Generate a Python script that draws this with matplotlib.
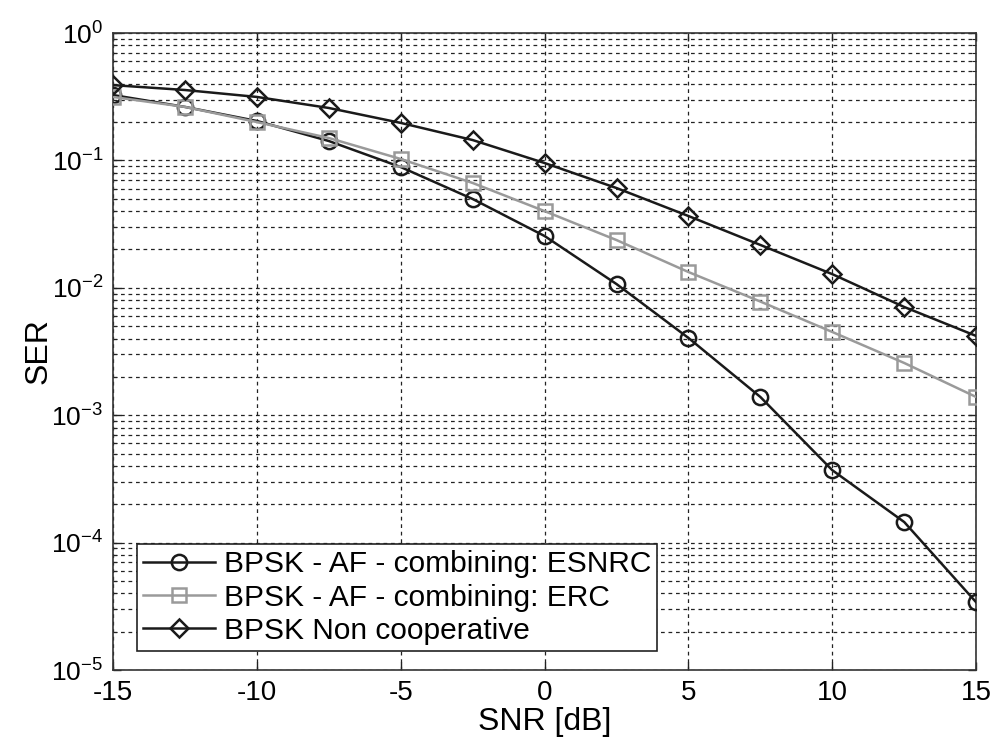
import matplotlib
matplotlib.use("Agg")
import matplotlib.pyplot as plt
from matplotlib.ticker import LogLocator, FixedLocator

plt.rcParams['font.family'] = ['Liberation Sans', 'DejaVu Sans']
plt.rcParams['mathtext.fontset'] = 'custom'
plt.rcParams['mathtext.rm'] = 'Liberation Sans'
plt.rcParams['axes.unicode_minus'] = False

snr_db = [-15, -12.5, -10, -7.5, -5, -2.5, 0, 2.5, 5, 7.5, 10, 12.5, 15]

ser_esnrc = [0.326, 0.263, 0.204, 0.142, 0.0887, 0.0498, 0.0255, 0.0107,
             0.00404, 0.00139, 3.7e-4, 1.45e-4, 3.4e-5]
ser_erc = [0.315, 0.263, 0.200, 0.150, 0.1026, 0.0665, 0.0400, 0.0237,
           0.0133, 0.0078, 0.0045, 0.00257, 0.00139]
ser_noncoop = [0.39, 0.357, 0.315, 0.258, 0.197, 0.1445, 0.0954, 0.0607,
               0.0366, 0.0217, 0.0128, 0.00707, 0.00419]

labels = ["BPSK - AF - combining: ESNRC",
          "BPSK - AF - combining: ERC",
          "BPSK Non cooperative"]

fig = plt.figure(figsize=(9.95, 7.42), dpi=100)
ax = fig.add_axes([0.1136, 0.097, 0.8675, 0.8585])

ax.plot(snr_db, ser_esnrc, color='#1a1a1a', lw=1.8, marker='o', ms=11,
        mfc='none', mec='#1a1a1a', mew=1.8, label=labels[0], zorder=3)
ax.plot(snr_db, ser_erc, color='#9a9a9a', lw=1.8, marker='s', ms=10,
        mfc='none', mec='#9a9a9a', mew=1.8, label=labels[1], zorder=3)
ax.plot(snr_db, ser_noncoop, color='#1a1a1a', lw=1.8, marker='D', ms=9,
        mfc='none', mec='#1a1a1a', mew=1.8, label=labels[2], zorder=3)

ax.set_yscale('log')
ax.set_xlim(-15, 15)
ax.set_ylim(1e-5, 1)
ax.xaxis.set_major_locator(FixedLocator([-15, -10, -5, 0, 5, 10, 15]))
ax.yaxis.set_major_locator(LogLocator(base=10, numticks=10))
ax.yaxis.set_minor_locator(LogLocator(base=10, subs=range(2, 10), numticks=20))

ax.grid(True, which='major', axis='both', color='#222222', ls=(0, (3, 3)), lw=0.9)
ax.grid(True, which='minor', axis='y', color='#222222', ls=(0, (3, 3)), lw=0.9)

ax.tick_params(which='both', direction='in', top=True, right=True,
               color='#222222')
ax.tick_params(which='major', length=6, width=1)
ax.tick_params(which='minor', length=3, width=0.8)
ax.tick_params(axis='x', labelsize=20, pad=7)
ax.tick_params(axis='y', labelsize=19, pad=7)
for s in ax.spines.values():
    s.set_color('#333333')
    s.set_linewidth(1.2)

ax.set_xlabel('SNR [dB]', fontsize=23, labelpad=1)
ax.set_ylabel('SER', fontsize=23, labelpad=-2)

leg = ax.legend(loc='lower left', bbox_to_anchor=(0.028, 0.03), fontsize=21.5,
                frameon=True, fancybox=False, edgecolor='#222222',
                handlelength=2.4, handletextpad=0.3, borderpad=0.2,
                labelspacing=0.18, borderaxespad=0.0)
leg.get_frame().set_linewidth(1.2)
leg.get_frame().set_alpha(1)

fig.savefig('out.png', dpi=100)
